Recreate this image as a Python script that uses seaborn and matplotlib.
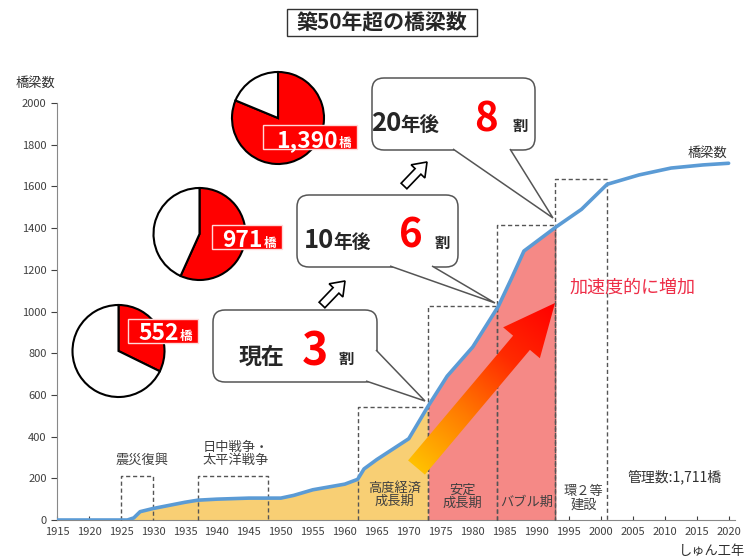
import numpy as np
import matplotlib
matplotlib.use('Agg')
from matplotlib import pyplot as plt
from matplotlib.patches import FancyBboxPatch, Polygon, Rectangle, FancyArrow
from matplotlib.colors import LinearSegmentedColormap
import seaborn as sns

# bridges in service by completion year (cumulative)
years = [1915, 1926, 1927, 1928, 1930, 1935, 1937, 1940, 1945, 1950, 1952, 1955, 1960, 1962, 1963,
         1965, 1970, 1973, 1976, 1980, 1984, 1986, 1988, 1993, 1997, 2001, 2006, 2011, 2016, 2020]
bridges = [0, 0, 10, 40, 55, 85, 95, 100, 105, 105, 118, 145, 172, 195, 245,
           290, 390, 545, 690, 830, 1025, 1155, 1290, 1405, 1490, 1610, 1655, 1688, 1703, 1711]

periodNames = ['震災復興', '日中戦争・\n太平洋戦争', '高度経済\n成長期', '安定\n成長期', 'バブル期', '環２等\n建設']
periodStart = [1925, 1937, 1962, 1973, 1983.8, 1992.8]
periodEnd = [1930, 1948, 1973, 1983.8, 1992.8, 2001]
periodTop = [210, 210, 540, 1028, 1415, 1635]

pieCounts = [552, 971, 1390]
pieLabels = ['552', '971', '1,390']
totalBridges = 1711

W, H = 754, 558
def Y(py):
    return H - py

sns.set_style('ticks')
plt.rcParams['font.family'] = ['Noto Sans CJK JP', 'DejaVu Sans']

fig = plt.figure(figsize=(W / 100, H / 100), dpi=100)
ax = fig.add_axes([57 / W, 38 / H, 678 / W, 417 / H], zorder=1)

yrs = np.array(years)
vals = np.array(bridges)
ax.fill_between(yrs, vals, where=(yrs >= 1926) & (yrs <= 1973), color='#F8CF74', lw=0, zorder=1)
ax.fill_between(yrs, vals, where=(yrs >= 1973) & (yrs <= 1993), color='#F58986', lw=0, zorder=1)

for s, e, t in zip(periodStart, periodEnd, periodTop):
    ax.plot([s, s, e, e], [0, t, t, 0], color='#555555', lw=1, ls=(0, (3, 2)), zorder=3, clip_on=False)

sns.lineplot(x=years, y=bridges, ax=ax, color='#5B9BD5', lw=2.6, zorder=4)

labelX = [1928.3, 1943, 1967.8, 1978.4, 1988.4, 1997.3]
labelY = [288, 317, 120, 110, 86, 105]
for name, lx, ly in zip(periodNames, labelX, labelY):
    ax.text(lx, ly, name, ha='center', va='center', fontsize=9.5, color='#404040', linespacing=1.05, zorder=5)

ax.text(2011.6, 206, '管理数:1,711橋', ha='center', va='center', fontsize=10, color='#303030')
ax.text(2005, 1113, '加速度的に増加', ha='center', va='center', fontsize=13, color='#EE2E48')
ax.text(2016.7, 1760, '橋梁数', ha='center', va='center', fontsize=9.5, color='#303030')

ax.set_xlim(1915, 2021)
ax.set_ylim(0, 2000)
ax.set_xticks(range(1915, 2021, 5))
ax.set_yticks(range(0, 2001, 200))
ax.tick_params(axis='x', direction='in', length=3, labelsize=8, colors='#404040', pad=5)
ax.tick_params(axis='y', direction='out', length=4, labelsize=8, colors='#404040')
for side in ['top', 'right']:
    ax.spines[side].set_visible(False)
for side in ['left', 'bottom']:
    ax.spines[side].set_color('#888888')
ax.set_xlabel('')
ax.set_ylabel('')

# overlay in pixel units for the infographic parts
ov = fig.add_axes([0, 0, 1, 1], zorder=2)
ov.patch.set_alpha(0)

ov.add_patch(Rectangle((287, Y(36)), 190, 27, fc='white', ec='#333333', lw=1))
ov.text(382, Y(22.5), '築50年超の橋梁数', ha='center', va='center', fontsize=15, fontweight='bold')
ov.text(35, Y(83), '橋梁数', ha='center', va='center', fontsize=9.5, color='#303030')
ov.text(712, Y(552), 'しゅん工年', ha='center', va='center', fontsize=9.5, color='#303030')

# pies
pieCenters = [(118.5, 351), (199.5, 234), (278, 118)]
for cnt, (cx, cy) in zip(pieCounts, pieCenters):
    ov.pie([cnt, totalBridges - cnt], colors=['#FF0000', 'white'], startangle=90, counterclock=False,
           center=(cx, Y(cy)), radius=46, frame=True,
           wedgeprops=dict(edgecolor='black', linewidth=1.5))

labelBoxes = [(128, 319, 70, 24), (212, 225, 70, 24), (263, 125, 94, 24)]
numRight = [179, 263, 338]
numBase = [340, 247, 147]
for lab, (bx, by, bw, bh), nr, nb in zip(pieLabels, labelBoxes, numRight, numBase):
    ov.add_patch(Rectangle((bx, Y(by + bh)), bw, bh, fc='#FF0000', ec='#FFD8D8', lw=1, zorder=5))
    ov.text(nr, Y(nb), lab, ha='right', va='baseline', fontsize=16.5, fontweight='bold', color='white', zorder=6)
    ov.text(nr + 1, Y(nb), '橋', ha='left', va='baseline', fontsize=9, fontweight='bold', color='white', zorder=6)

# speech bubbles
bubbles = [(213, 310, 164, 72), (297, 195, 161, 72), (372, 78, 163, 72)]
tails = [[(376, 350), (425, 401), (366, 381)],
         [(390, 266), (495, 303), (432, 266)],
         [(453, 149), (553, 218), (510, 149)]]
for (bx, by, bw, bh), tl in zip(bubbles, tails):
    ov.add_patch(FancyBboxPatch((bx, Y(by + bh)), bw, bh, boxstyle='round,pad=0,rounding_size=12',
                                fc='white', ec='#555555', lw=1.1, zorder=6))
    ov.add_patch(Polygon([(x, Y(y)) for x, y in tl], closed=False, fc='white', ec='#555555', lw=1.1, zorder=7))

ov.text(261, Y(364), '現在', ha='center', va='baseline', fontsize=16.5, fontweight='bold', zorder=8)
ov.text(315, Y(365), '3', ha='center', va='baseline', fontsize=32, fontweight='bold', color='#FF0000', zorder=8)
ov.text(346, Y(364), '割', ha='center', va='baseline', fontsize=11, fontweight='bold', zorder=8)

ov.text(334, Y(248), '10', ha='right', va='baseline', fontsize=18.5, fontweight='bold', zorder=8)
ov.text(333, Y(248), '年後', ha='left', va='baseline', fontsize=13.5, fontweight='bold', zorder=8)
ov.text(411, Y(248), '6', ha='center', va='baseline', fontsize=29, fontweight='bold', color='#FF0000', zorder=8)
ov.text(442, Y(248), '割', ha='center', va='baseline', fontsize=11, fontweight='bold', zorder=8)

ov.text(401, Y(131), '20', ha='right', va='baseline', fontsize=18.5, fontweight='bold', zorder=8)
ov.text(400, Y(131), '年後', ha='left', va='baseline', fontsize=14, fontweight='bold', zorder=8)
ov.text(486, Y(131), '8', ha='center', va='baseline', fontsize=29, fontweight='bold', color='#FF0000', zorder=8)
ov.text(520, Y(131), '割', ha='center', va='baseline', fontsize=11, fontweight='bold', zorder=8)

# hollow step arrows
for x0, y0 in [(322, 305), (404, 186)]:
    ov.add_patch(FancyArrow(x0, Y(y0), 23, 24, width=8, head_width=19, head_length=13,
                            length_includes_head=True, fc='white', ec='black', lw=1.2, zorder=8))

# big gradient arrow
tx, ty, dx, dy = 416.5, Y(467.5), 138.5, 164.5
bigArrow = FancyArrow(tx, ty, dx, dy, width=22, head_width=48, head_length=52,
                      length_includes_head=True, fc='none', ec='none', zorder=4)
ov.add_patch(bigArrow)
fireCmap = LinearSegmentedColormap.from_list('fire', ['#FFC000', '#FF7A00', '#FF2A00', '#FF0000'])
gx, gy = np.meshgrid(np.linspace(395, 565, 200), np.linspace(Y(480), Y(295), 200))
grad = ((gx - tx) * dx + (gy - ty) * dy) / (dx ** 2 + dy ** 2)
img = ov.imshow(grad, extent=[395, 565, Y(480), Y(295)], origin='lower', cmap=fireCmap,
                vmin=0, vmax=1, aspect='auto', zorder=4)
img.set_clip_path(bigArrow)

ov.set_xlim(0, W)
ov.set_ylim(0, H)
ov.set_aspect('auto')
ov.axis('off')

plt.savefig('out.png', dpi=100)
plt.close()
